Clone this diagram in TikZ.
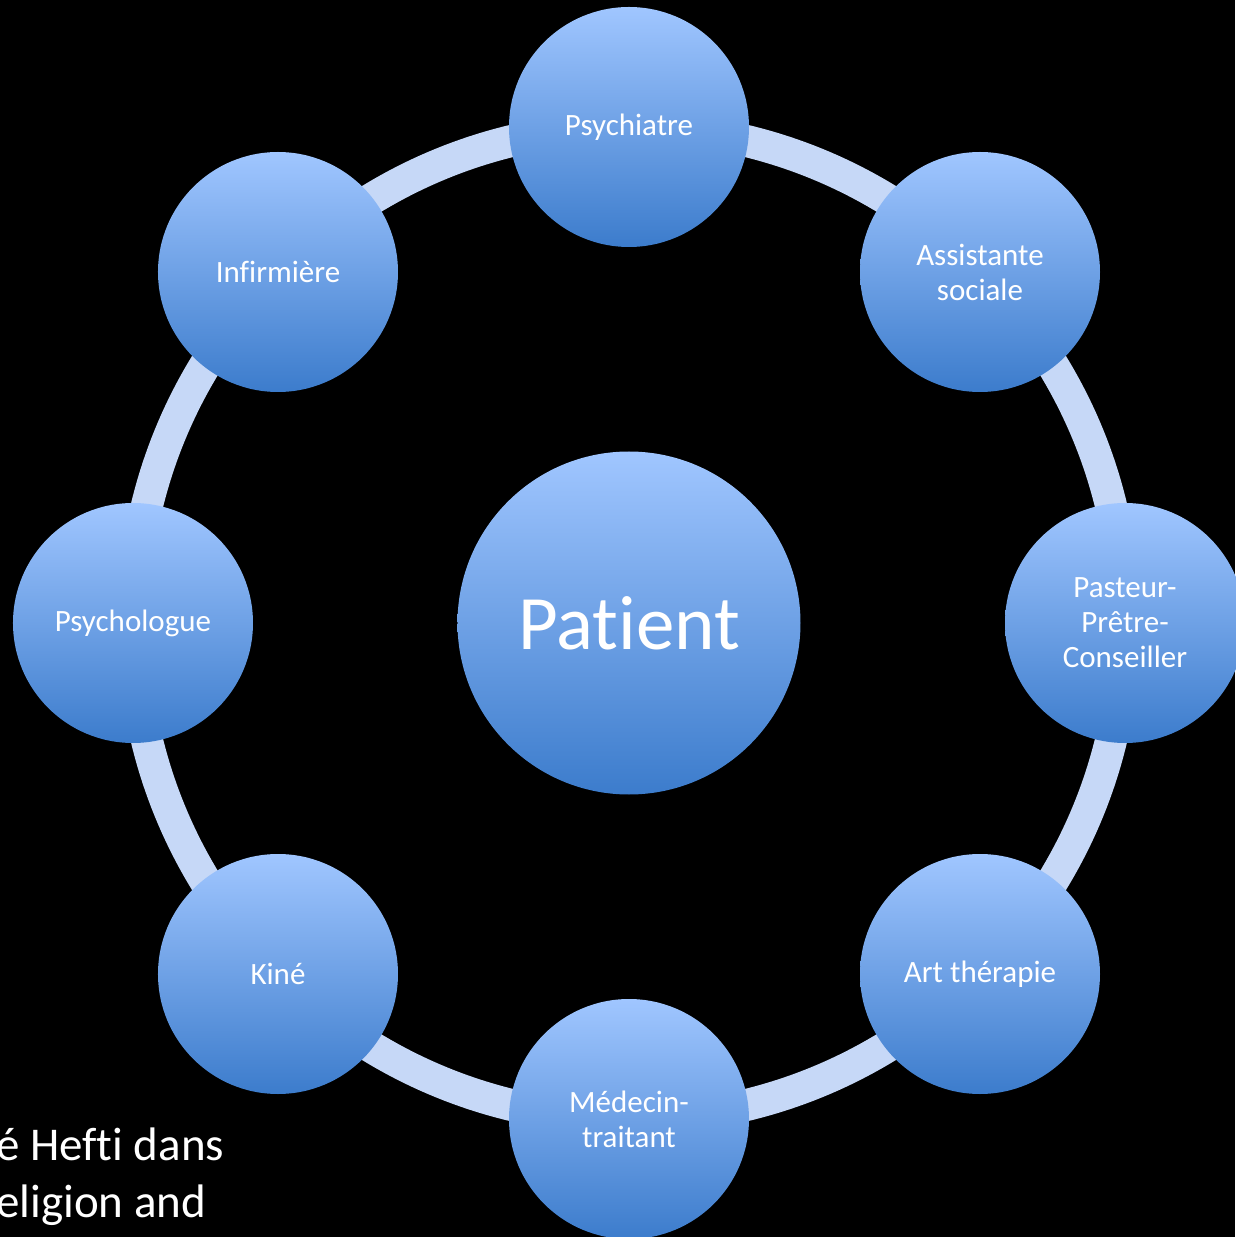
\documentclass[tikz,border=0pt]{standalone}
\usepackage{fontspec}
\setmainfont{Carlito}[Ligatures=NoCommon]
\usepackage{tikz}
\usetikzlibrary{shapes}
\usetikzlibrary{positioning}
\definecolor{bulhaut}{RGB}{160,198,255}
\definecolor{bulmilieu}{RGB}{116,164,236}
\definecolor{bulbas}{RGB}{60,124,204}
\definecolor{anneau}{RGB}{198,216,247}
\tikzstyle{membre}=[circle,minimum size=240pt,inner sep=0pt,
        top color=bulhaut,middle color=bulmilieu,bottom color=bulbas,
        text=white,align=center,font=\fontsize{31}{35}\selectfont]
\tikzstyle{patient}=[membre,minimum size=343pt,font=\fontsize{77}{80}\selectfont]
\tikzstyle{lien}=[draw=anneau,line width=32pt]
\tikzstyle{source}=[text=white,inner sep=0pt,anchor=base west,font=\fontsize{47}{57}\selectfont]
\begin{document}
\begin{tikzpicture}[x=1pt,y=1pt]
\fill[black] (-629,-614) rectangle (606,623);
\useasboundingbox (-629,-614) rectangle (606,623);
%anneau
\draw[lien] (0,0) circle (496);
%bulles
\node[patient] (pat) at (0,0) {Patient};
\node[membre] (psy) at (0,496) {Psychiatre};
\node[membre] (ass) at (351,351) {Assistante\\sociale};
\node[membre] (pas) at (496,0) {Pasteur-\\Prêtre-\\Conseiller};
\node[membre] (art) at (351,-351) {Art thérapie};
\node[membre] (med) at (0,-496) {Médecin-\\traitant};
\node[membre] (kin) at (-351,-351) {Kiné};
\node[membre] (pso) at (-496,0) {Psychologue};
\node[membre] (inf) at (-351,351) {Infirmière};
%texte
\node[source] (ref1) at (-633,-537) {é Hefti dans};
\node[source] (ref2) at (-633,-594) {eligion and};
\end{tikzpicture}
\end{document}
